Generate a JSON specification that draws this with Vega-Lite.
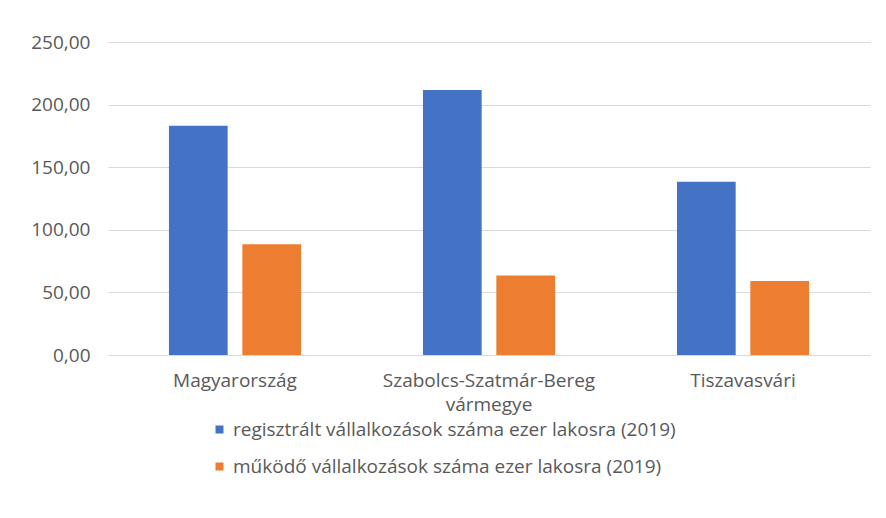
{
  "$schema": "https://vega.github.io/schema/vega-lite/v6.json",
  "autosize": "none",
  "width": 762,
  "height": 313,
  "padding": {"left": 108, "top": 42, "right": 16, "bottom": 163},
  "background": "white",
  "config": {
    "view": {"stroke": null},
    "font": "Open Sans"
  },
  "data": {
    "values": [
      {"terulet": "Magyarország", "mutato": "regisztrált vállalkozások száma ezer lakosra (2019)", "ertek": 183.1},
      {"terulet": "Magyarország", "mutato": "működő vállalkozások száma ezer lakosra (2019)", "ertek": 88.4},
      {"terulet": "Szabolcs-Szatmár-Bereg vármegye", "mutato": "regisztrált vállalkozások száma ezer lakosra (2019)", "ertek": 211.7},
      {"terulet": "Szabolcs-Szatmár-Bereg vármegye", "mutato": "működő vállalkozások száma ezer lakosra (2019)", "ertek": 63.4},
      {"terulet": "Tiszavasvári", "mutato": "regisztrált vállalkozások száma ezer lakosra (2019)", "ertek": 138.4},
      {"terulet": "Tiszavasvári", "mutato": "működő vállalkozások száma ezer lakosra (2019)", "ertek": 59.1}
    ]
  },
  "mark": {"type": "bar"},
  "encoding": {
    "x": {
      "field": "terulet",
      "type": "nominal",
      "sort": null,
      "scale": {"paddingInner": 0.48, "paddingOuter": 0.24},
      "axis": {
        "title": null,
        "labelAngle": 0,
        "labelFontSize": 19,
        "labelColor": "#595959",
        "labelPadding": 16,
        "labelLineHeight": 24,
        "labelBaseline": "top",
        "labelLimit": 400,
        "ticks": false,
        "domain": false,
        "labelExpr": "datum.label == 'Szabolcs-Szatmár-Bereg vármegye' ? ['Szabolcs-Szatmár-Bereg', 'vármegye'] : datum.label"
      }
    },
    "xOffset": {
      "field": "mutato",
      "type": "nominal",
      "sort": null,
      "scale": {"paddingInner": 0.2}
    },
    "y": {
      "field": "ertek",
      "type": "quantitative",
      "scale": {"domain": [0, 250], "nice": false},
      "axis": {
        "title": null,
        "values": [0, 50, 100, 150, 200, 250],
        "labelExpr": "replace(format(datum.value, '.2f'), '.', ',')",
        "labelFontSize": 19,
        "labelColor": "#595959",
        "labelPadding": 18,
        "ticks": false,
        "domain": false,
        "gridColor": "#d9d9d9",
        "gridWidth": 1
      }
    },
    "color": {
      "field": "mutato",
      "type": "nominal",
      "sort": null,
      "scale": {"range": ["#4472C4", "#ED7D31"]},
      "legend": {
        "title": null,
        "orient": "none",
        "legendX": 102,
        "legendY": 378,
        "direction": "vertical",
        "symbolType": "square",
        "symbolSize": 64,
        "symbolStrokeWidth": 0,
        "labelFontSize": 19,
        "labelColor": "#595959",
        "labelOffset": 4,
        "rowPadding": 17,
        "labelLimit": 700
      }
    }
  }
}
